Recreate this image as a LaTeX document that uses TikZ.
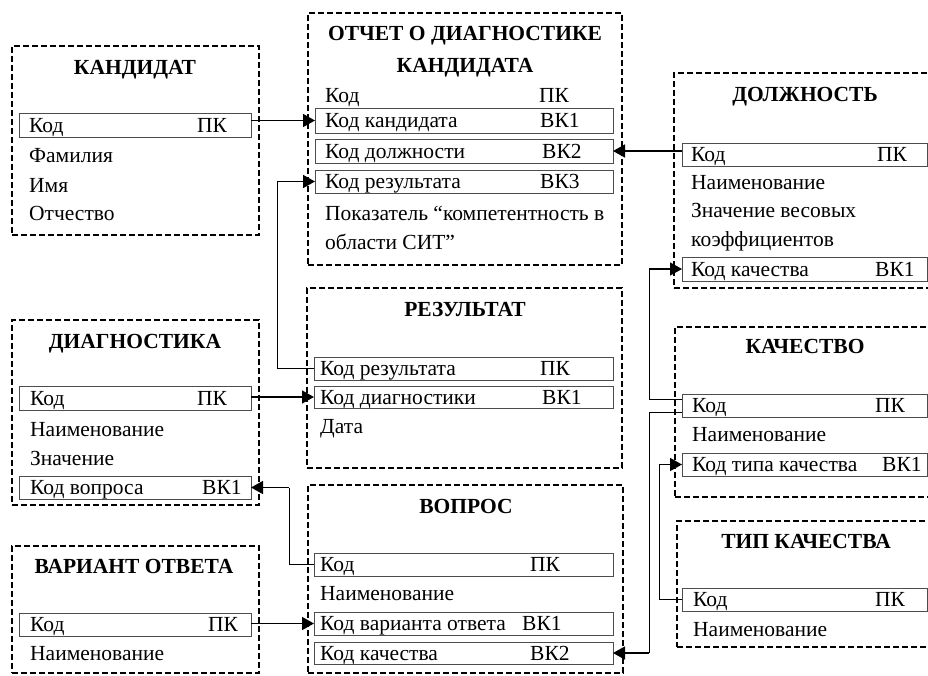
\documentclass[tikz,border=0pt]{standalone}
\usepackage{fontspec}
\setmainfont{Liberation Serif}
\usetikzlibrary{arrows.meta}
\newcommand{\fs}{\fontsize{21.5}{25}\selectfont}
\tikzset{
  ent/.style={draw=black, line width=1.4pt, dash pattern=on 6pt off 3pt, anchor=north west, inner sep=0pt, outer sep=0pt},
  rowbox/.style={draw=black!70, line width=0.8pt, anchor=north west, inner sep=0pt, outer sep=0pt},
  txt/.style={anchor=base west, inner sep=0pt, font=\fs},
  ttl/.style={anchor=base, inner sep=0pt, font=\fs\bfseries},
  conn/.style={line width=1.6pt, -{Triangle[length=12pt,width=13pt]}},
  thinline/.style={line width=0.7pt}
}
\begin{document}
\begin{tikzpicture}[x=1pt,y=-1pt]
\useasboundingbox (0,0) rectangle (928,675);
\clip (0,0) rectangle (928,675);
\fill[white] (0,0) rectangle (928,675);

% ---------- КАНДИДАТ ----------
\node[ent, minimum width=247pt, minimum height=189pt] (kand) at (12,46) {};
\node[ttl] (kand-t) at (135,74) {КАНДИДАТ};
\node[rowbox, minimum width=232pt, minimum height=24pt] (kand-kod) at (19,113) {};
\node[txt] (kand-k1) at (29,132) {Код};
\node[txt] (kand-k2) at (197,132) {ПК};
\node[txt] (kand-f) at (29,162) {Фамилия};
\node[txt] (kand-i) at (29,192) {Имя};
\node[txt] (kand-o) at (29,220) {Отчество};

% ---------- ОТЧЕТ ----------
\node[ent, minimum width=314pt, minimum height=252pt] (otch) at (308,13) {};
\node[ttl] (otch-t1) at (465,40) {ОТЧЕТ О ДИАГНОСТИКЕ};
\node[ttl] (otch-t2) at (465,72) {КАНДИДАТА};
\node[txt] (otch-k1) at (325,102) {Код};
\node[txt] (otch-k2) at (539,102) {ПК};
\node[rowbox, minimum width=298pt, minimum height=25pt] (otch-kand) at (315,108) {};
\node[txt] (otch-kt) at (325,127) {Код кандидата};
\node[txt] (otch-kv) at (540,127) {ВК1};
\node[rowbox, minimum width=298pt, minimum height=24pt] (otch-dolzh) at (315,139) {};
\node[txt] (otch-dt) at (325,158) {Код должности};
\node[txt] (otch-dv) at (542,158) {ВК2};
\node[rowbox, minimum width=298pt, minimum height=23pt] (otch-res) at (315,170) {};
\node[txt] (otch-rt) at (325,188) {Код результата};
\node[txt] (otch-rv) at (540,188) {ВК3};
\node[txt] (otch-p1) at (325,220) {Показатель “компетентность в};
\node[txt] (otch-p2) at (325,249) {области СИТ”};

% ---------- ДОЛЖНОСТЬ ----------
\node[ent, minimum width=262pt, minimum height=215pt] (dolzh) at (674,73) {};
\node[ttl] (dolzh-t) at (805,101) {ДОЛЖНОСТЬ};
\node[rowbox, minimum width=245pt, minimum height=23pt] (dolzh-kod) at (682,143) {};
\node[txt] (dolzh-k1) at (691,161) {Код};
\node[txt] (dolzh-k2) at (877,161) {ПК};
\node[txt] (dolzh-n) at (691,189) {Наименование};
\node[txt] (dolzh-z1) at (691,217) {Значение весовых};
\node[txt] (dolzh-z2) at (691,246) {коэффициентов};
\node[rowbox, minimum width=245pt, minimum height=24pt] (dolzh-kach) at (682,257) {};
\node[txt] (dolzh-qt) at (691,276) {Код качества};
\node[txt] (dolzh-qv) at (875,276) {ВК1};

% ---------- ДИАГНОСТИКА ----------
\node[ent, minimum width=247pt, minimum height=185pt] (diag) at (12,320) {};
\node[ttl] (diag-t) at (135,348) {ДИАГНОСТИКА};
\node[rowbox, minimum width=232pt, minimum height=24pt] (diag-kod) at (19,386) {};
\node[txt] (diag-k1) at (30,405) {Код};
\node[txt] (diag-k2) at (197,405) {ПК};
\node[txt] (diag-n) at (30,436) {Наименование};
\node[txt] (diag-z) at (30,465) {Значение};
\node[rowbox, minimum width=232pt, minimum height=23pt] (diag-vopr) at (19,476) {};
\node[txt] (diag-vt) at (30,494) {Код вопроса};
\node[txt] (diag-vv) at (202,494) {ВК1};

% ---------- РЕЗУЛЬТАТ ----------
\node[ent, minimum width=315pt, minimum height=180pt] (rez) at (307,288) {};
\node[ttl] (rez-t) at (465,316) {РЕЗУЛЬТАТ};
\node[rowbox, minimum width=299pt, minimum height=23pt] (rez-kod) at (314,357) {};
\node[txt] (rez-k1) at (320,375) {Код результата};
\node[txt] (rez-k2) at (540,375) {ПК};
\node[rowbox, minimum width=299pt, minimum height=22pt] (rez-diag) at (314,386) {};
\node[txt] (rez-dt) at (320,404) {Код диагностики};
\node[txt] (rez-dv) at (542,404) {ВК1};
\node[txt] (rez-d) at (320,433) {Дата};

% ---------- ВОПРОС ----------
\node[ent, minimum width=315pt, minimum height=188pt] (vop) at (308,485) {};
\node[ttl] (vop-t) at (466,513) {ВОПРОС};
\node[rowbox, minimum width=299pt, minimum height=23pt] (vop-kod) at (314,553) {};
\node[txt] (vop-k1) at (320,571) {Код};
\node[txt] (vop-k2) at (530,571) {ПК};
\node[txt] (vop-n) at (320,600) {Наименование};
\node[rowbox, minimum width=299pt, minimum height=23pt] (vop-var) at (314,612) {};
\node[txt] (vop-at) at (320,630) {Код варианта ответа};
\node[txt] (vop-av) at (522,630) {ВК1};
\node[rowbox, minimum width=299pt, minimum height=22pt] (vop-kach) at (314,642) {};
\node[txt] (vop-qt) at (320,660) {Код качества};
\node[txt] (vop-qv) at (530,660) {ВК2};

% ---------- ВАРИАНТ ОТВЕТА ----------
\node[ent, minimum width=247pt, minimum height=127pt] (var) at (12,546) {};
\node[ttl] (var-t) at (134,573) {ВАРИАНТ ОТВЕТА};
\node[rowbox, minimum width=232pt, minimum height=23pt] (var-kod) at (19,613) {};
\node[txt] (var-k1) at (30,631) {Код};
\node[txt] (var-k2) at (208,631) {ПК};
\node[txt] (var-n) at (30,660) {Наименование};

% ---------- КАЧЕСТВО ----------
\node[ent, minimum width=261pt, minimum height=170pt] (kach) at (675,327) {};
\node[ttl] (kach-t) at (805,353) {КАЧЕСТВО};
\node[rowbox, minimum width=245pt, minimum height=23pt] (kach-kod) at (682,394) {};
\node[txt] (kach-k1) at (692,412) {Код};
\node[txt] (kach-k2) at (875,412) {ПК};
\node[txt] (kach-n) at (692,441) {Наименование};
\node[rowbox, minimum width=245pt, minimum height=23pt] (kach-tip) at (682,453) {};
\node[txt] (kach-tt) at (692,471) {Код типа качества};
\node[txt] (kach-tv) at (882,471) {ВК1};

% ---------- ТИП КАЧЕСТВА ----------
\node[ent, minimum width=259pt, minimum height=126pt] (tip) at (677,521) {};
\node[ttl] (tip-t) at (806,548) {ТИП КАЧЕСТВА};
\node[rowbox, minimum width=245pt, minimum height=23pt] (tip-kod) at (682,588) {};
\node[txt] (tip-k1) at (693,606) {Код};
\node[txt] (tip-k2) at (875,606) {ПК};
\node[txt] (tip-n) at (693,636) {Наименование};

% ---------- connectors ----------
\draw[conn] (kand-kod.east |- otch-kand.west) -- (otch-kand.west);
\draw[conn] (dolzh-kod.west |- otch-dolzh.east) -- (otch-dolzh.east);
\draw[conn] (diag-kod.east |- rez-diag.west) -- (rez-diag.west);
\draw[conn] (var-kod.east |- vop-var.west) -- (vop-var.west);

\coordinate (b1) at (277,181.5);
\draw[thinline] (rez-kod.west) -| (b1);
\draw[conn] (b1) -- (otch-res.west);

\coordinate (b2) at (289,487.5);
\draw[thinline] (vop-kod.west) -| (b2);
\draw[conn] (b2) -- (diag-vopr.east);

\coordinate (b3) at (649,269);
\draw[thinline] ([yshift=6.5pt]kach-kod.west) -| (b3);
\draw[conn] (b3) -- (dolzh-kach.west);

\coordinate (b4) at (649,653);
\draw[thinline] ([yshift=-6.5pt]kach-kod.west) -| (b4);
\draw[conn] (b4) -- (vop-kach.east);

\coordinate (b5) at (659,464.5);
\draw[thinline] (tip-kod.west) -| (b5);
\draw[conn] (b5) -- (kach-tip.west);
\end{tikzpicture}
\end{document}
